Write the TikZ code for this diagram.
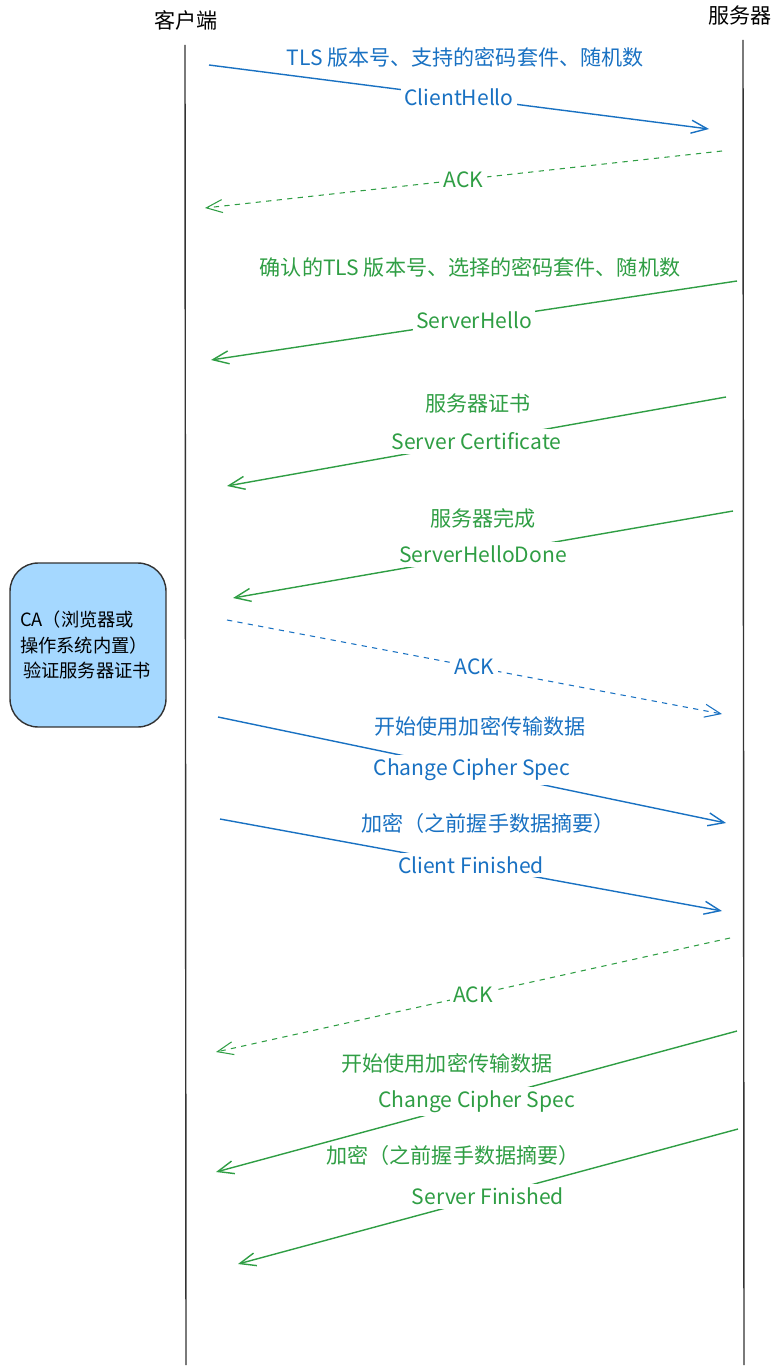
\documentclass[tikz,border=0pt]{standalone}
\usepackage{fontspec}
\setmainfont{Noto Sans CJK SC}
\usetikzlibrary{arrows.meta}
\definecolor{msgblue}{HTML}{1971C2}
\definecolor{msggreen}{HTML}{2F9E44}
\definecolor{cafill}{HTML}{A5D8FF}

\begin{document}
\begin{tikzpicture}[x=0.02cm, y=-0.02cm, font=\fontsize{12}{14}\selectfont,
    >={Straight Barb[length=3.2mm, width=2.6mm]},
    msg/.style={->, line width=0.8pt},
    ack/.style={->, dashed, line width=0.6pt},
    onlabel/.style={midway, fill=white, inner sep=2pt}]
            \useasboundingbox (0,0) rectangle (778,1372);

                % Lifelines:
                \node (client) at (186,20) {客户端};
                \node (server) at (740,15) {服务器};
                \coordinate (c top) at (185,45);
                \coordinate (c bot) at (186,1365);
                \coordinate (s top) at (743,40);
                \coordinate (s bot) at (744,1365);
            	\draw [line width=0.8pt, black!80] (c top) -- (c bot);
            	\draw [line width=0.8pt, black!80] (s top) -- (s bot);

                % CA box:
                \node (ca) [draw=black!80, line width=0.8pt, fill=cafill, rounded corners=16pt, minimum width=3.12cm, minimum height=3.28cm, text width=2.72cm, align=left, inner sep=0pt, font=\fontsize{10.4}{14.5}\selectfont] at (88,645)
                    {CA（浏览器或\\操作系统内置）\\\,验证服务器证书};

                % ClientHello:
                \coordinate (m1a) at (209,65);  \coordinate (m1b) at (709,129);
                \draw[msg, msgblue] (m1a) -- (m1b) node[onlabel] (hello c) {ClientHello};
                \node (hello c txt) [msgblue] at (465,57) {TLS 版本号、支持的密码套件、随机数};

                \coordinate (a1a) at (722,151); \coordinate (a1b) at (205,208);
                \draw[ack, msggreen] (a1a) -- (a1b) node[onlabel] (ack 1) {ACK};

                % ServerHello, certificate, done:
                \coordinate (m2a) at (737,281); \coordinate (m2b) at (211,360);
                \draw[msg, msggreen] (m2a) -- (m2b) node[onlabel] (hello s) {ServerHello};
                \node (hello s txt) [msggreen] at (470,267) {确认的TLS 版本号、选择的密码套件、随机数};

                \coordinate (m3a) at (726,397); \coordinate (m3b) at (227,486);
                \draw[msg, msggreen] (m3a) -- (m3b) node[onlabel] (cert) {Server Certificate};
                \node (cert txt) [msggreen] at (478,403) {服务器证书};

                \coordinate (m4a) at (733,511); \coordinate (m4b) at (233,598);
                \draw[msg, msggreen] (m4a) -- (m4b) node[onlabel] (done) {ServerHelloDone};
                \node (done txt) [msggreen] at (483,518) {服务器完成};

                \coordinate (a2a) at (227,620); \coordinate (a2b) at (722,714);
                \draw[ack, msgblue] (a2a) -- (a2b) node[onlabel] (ack 2) {ACK};

                % client side change cipher spec / finished:
                \coordinate (m5a) at (218,717); \coordinate (m5b) at (726,823);
                \draw[msg, msgblue] (m5a) -- (m5b) node[onlabel] (ccs c) {Change Cipher Spec};
                \node (ccs c txt) [msgblue] at (480,726) {开始使用加密传输数据};

                \coordinate (m6a) at (220,819); \coordinate (m6b) at (722,911);
                \draw[msg, msgblue] (m6a) -- (m6b) node[onlabel] (fin c) {Client Finished};
                \node (fin c txt) [msgblue] at (488,823) {加密（之前握手数据摘要）};

                \coordinate (a3a) at (730,938); \coordinate (a3b) at (216,1052);
                \draw[ack, msggreen] (a3a) -- (a3b) node[onlabel] (ack 3) {ACK};

                % server side change cipher spec / finished:
                \coordinate (m7a) at (737,1031); \coordinate (m7b) at (216,1172);
                \draw[msg, msggreen] (m7a) -- (m7b) node[onlabel] (ccs s) {Change Cipher Spec};
                \node (ccs s txt) [msggreen] at (447,1063) {开始使用加密传输数据};

                \coordinate (m8a) at (738,1129); \coordinate (m8b) at (238,1264);
                \draw[msg, msggreen] (m8a) -- (m8b) node[onlabel] (fin s) {Server Finished};
                \node (fin s txt) [msggreen] at (453,1155) {加密（之前握手数据摘要）};
            \end{tikzpicture}
\end{document}
